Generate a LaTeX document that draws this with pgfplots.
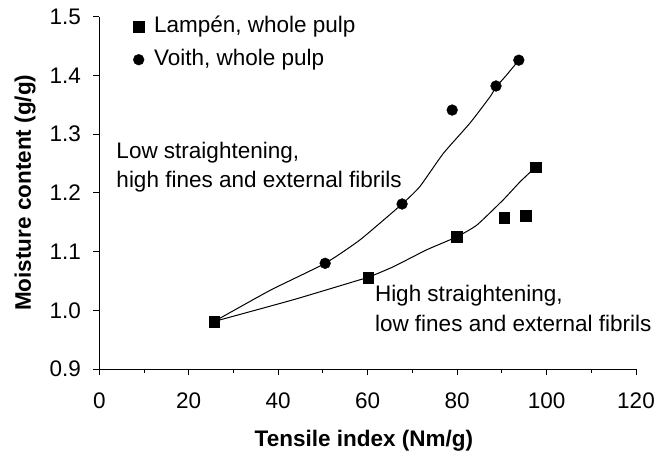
\documentclass[border=0pt]{standalone}
\usepackage{pgfplots}
\pgfplotsset{compat=1.18}
\usepackage{fontspec}
\setmainfont{Liberation Sans}
\begin{document}
\begin{tikzpicture}
\pgfplotstableread{
x y
25.7 0.981
60.1 1.056
79.9 1.125
90.5 1.158
95.3 1.161
97.6 1.244
}\lampen
\pgfplotstableread{
x y
50.5 1.080
67.7 1.181
78.9 1.341
88.7 1.382
93.8 1.426
}\voith
\pgfplotstableread{
x y
25.7 0.981
38.2 1.034
50.5 1.080
58.3 1.120
67.7 1.181
71.7 1.211
76.9 1.267
82.9 1.319
87.4 1.364
88.7 1.380
91.1 1.401
93.8 1.426
}\voithfit
\pgfplotstableread{
x y
25.7 0.981
43.4 1.018
58.3 1.052
60.1 1.056
65.7 1.074
73.2 1.103
79.9 1.125
84.4 1.145
90.3 1.188
94.1 1.219
97.6 1.244
}\lampenfit
\begin{axis}[
  at={(0,0)}, anchor=south west,
  scale only axis,
  width=536.7bp, height=352.3bp,
  xmin=0, xmax=120, ymin=0.9, ymax=1.5,
  axis x line=bottom, axis y line=left,
  axis line style={-, line width=1bp},
  xtick={0,20,...,120},
  ytick={0.9,1.0,...,1.5},
  minor x tick num=1,
  tick align=outside,
  major tick length=6bp, minor tick length=4bp,
  every tick/.style={black, line width=1bp},
  /pgf/number format/assume math mode=true,
  tick label style={font=\fontsize{22.5bp}{26bp}\selectfont},
  xticklabel style={yshift=-14bp},
  yticklabel style={xshift=-9bp, /pgf/number format/.cd, fixed, fixed zerofill, precision=1},
  xlabel={Tensile index (Nm/g)},
  ylabel={Moisture content (g/g)},
  label style={font=\fontsize{22.5bp}{26bp}\selectfont\bfseries},
  xlabel style={at={(0.493,-0.2205)}, anchor=base},
  ylabel style={at={(-0.1273,0.5)}, anchor=base, rotate=0},
  legend cell align=left,
  legend image code/.code={\draw[#1] plot coordinates {(0bp,0bp)};},
  legend style={draw=none, fill=none, at={(0.063,1.0048)}, anchor=north west,
    inner sep=0pt, row sep=10bp, column sep=9bp,
    font=\fontsize{22.5bp}{26bp}\selectfont,
    nodes={inner sep=1bp, text height=16bp, text depth=5bp}},
  clip=false,
]
\addplot[only marks, mark=square*, mark size=5.3bp, black] table {\lampen};
\addlegendentry{Lampén, whole pulp}
\addplot[only marks, mark=*, mark size=5.4bp, black] table {\voith};
\addlegendentry{Voith, whole pulp}
\addplot[black, line width=1bp, smooth, tension=0.3, forget plot] table {\voithfit};
\addplot[black, line width=1bp, smooth, tension=0.3, forget plot] table {\lampenfit};
\node[anchor=base west, inner sep=0pt, font=\fontsize{22.5bp}{26bp}\selectfont] at (axis cs:3.8,1.259) {Low straightening,};
\node[anchor=base west, inner sep=0pt, font=\fontsize{22.5bp}{26bp}\selectfont] at (axis cs:3.8,1.2085) {high fines and external fibrils};
\node[anchor=base west, inner sep=0pt, font=\fontsize{22.5bp}{26bp}\selectfont] at (axis cs:61.6,1.0147) {High straightening,};
\node[anchor=base west, inner sep=0pt, font=\fontsize{22.5bp}{26bp}\selectfont] at (axis cs:61.6,0.9636) {low fines and external fibrils};
\end{axis}
\pgfresetboundingbox
\path[use as bounding box] (-99.3bp,-86bp) rectangle (561.7bp,369bp);
\end{tikzpicture}
\end{document}
